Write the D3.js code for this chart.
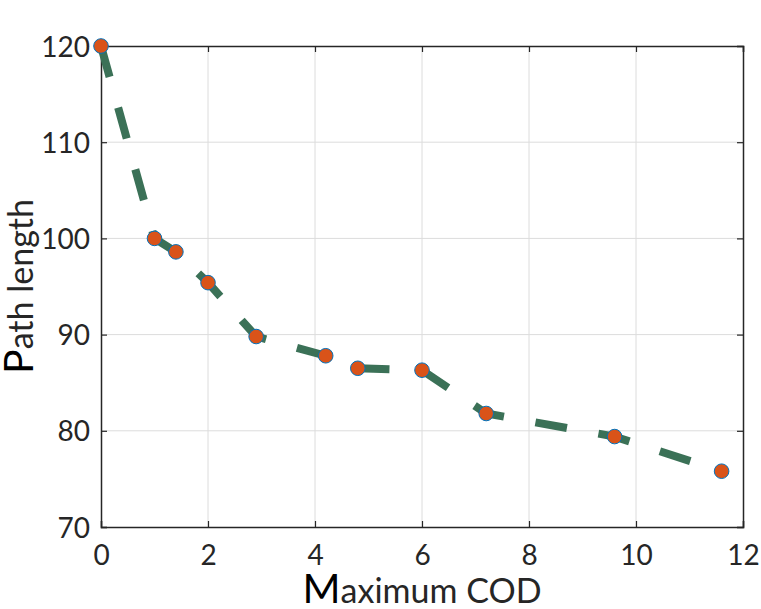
<!DOCTYPE html>
<html>
<head>
<meta charset="utf-8">
<script src="https://cdn.jsdelivr.net/npm/d3@7"></script>
<style>
  body { margin: 0; background: #fff; }
  text { font-family: Lato, "Open Sans", sans-serif; }
</style>
</head>
<body>
<div id="chart"></div>
<script>
// values
const maxCOD = [0, 1.0, 1.4, 2.0, 2.9, 4.2, 4.8, 6.0, 7.2, 9.6, 11.6];
const pathLength = [120, 100.0, 98.6, 95.4, 89.8, 87.8, 86.5, 86.3, 81.8, 79.4, 75.8];
const xTicks = [0, 2, 4, 6, 8, 10, 12];
const yTicks = [70, 80, 90, 100, 110, 120];

const data = maxCOD.map((x, i) => ({x: x, y: pathLength[i]}));

const margin = {top: 46, right: 18, bottom: 82, left: 101},
      width = 761 - margin.left - margin.right,
      height = 609 - margin.top - margin.bottom;

const svg = d3.select("#chart")
    .append("svg")
    .attr("width", width + margin.left + margin.right)
    .attr("height", height + margin.top + margin.bottom)
    .append("g")
    .attr("transform", `translate(${margin.left},${margin.top})`);

const x = d3.scaleLinear().domain([0, 12]).range([0, width]);
const y = d3.scaleLinear().domain([70, 120]).range([height, 0]);

// grid
svg.append("g")
    .selectAll("line")
    .data(xTicks.slice(1, -1))
    .enter()
    .append("line")
    .attr("x1", d => x(d)).attr("x2", d => x(d))
    .attr("y1", 0).attr("y2", height)
    .attr("stroke", "#dcdcdc").attr("stroke-width", 1);

svg.append("g")
    .selectAll("line")
    .data(yTicks.slice(1, -1))
    .enter()
    .append("line")
    .attr("x1", 0).attr("x2", width)
    .attr("y1", d => y(d)).attr("y2", d => y(d))
    .attr("stroke", "#dcdcdc").attr("stroke-width", 1);

const tickColor = "#262626";

/* X axis */
const xAxis = svg.append("g")
    .attr("transform", `translate(0,${height})`)
    .call(d3.axisBottom(x).tickValues(xTicks).tickSize(-6).tickPadding(18).tickFormat(d3.format("d")));

/* Y Axis */
const yAxis = svg.append("g")
    .call(d3.axisLeft(y).tickValues(yTicks).tickSize(-6).tickPadding(11).tickFormat(d3.format("d")));

// mirrored ticks on top and right
svg.append("g")
    .call(d3.axisTop(x).tickValues(xTicks).tickSize(-6).tickFormat(""));
svg.append("g")
    .attr("transform", `translate(${width},0)`)
    .call(d3.axisRight(y).tickValues(yTicks).tickSize(-6).tickFormat(""));

svg.selectAll(".domain").attr("stroke", tickColor).attr("stroke-width", 1.5);
svg.selectAll(".tick line").attr("stroke", tickColor).attr("stroke-width", 1.2);
svg.selectAll(".tick text")
    .attr("fill", tickColor)
    .style("font-size", "28px");
yAxis.selectAll(".tick text").attr("dy", "0.36em");

// dashed line
const line = d3.line().x(d => x(d.x)).y(d => y(d.y));
svg.append("path")
    .datum(data)
    .attr("d", line)
    .attr("fill", "none")
    .attr("stroke", "#3b7157")
    .attr("stroke-width", 8)
    .attr("stroke-dasharray", "32,32");

svg.selectAll("circle")
    .data(data)
    .enter()
    .append("circle")
    .attr("cx", d => x(d.x))
    .attr("cy", d => y(d.y))
    .attr("r", 7.3)
    .attr("fill", "#d95319")
    .attr("stroke", "#0072bd")
    .attr("stroke-width", 1);

// Labels
const xLabel = svg.append("text")
    .attr("x", width / 2)
    .attr("y", height + 76)
    .attr("text-anchor", "middle")
    .attr("fill", tickColor)
    .style("font-size", "34px");
xLabel.append("tspan").attr("fill", "#000").style("font-size", "41px").text("M");
xLabel.append("tspan").text("aximum COD");

const yLabel = svg.append("text")
    .attr("transform", "rotate(-90)")
    .attr("x", -height / 2)
    .attr("y", -68)
    .attr("text-anchor", "middle")
    .attr("fill", tickColor)
    .style("font-size", "34px");
yLabel.append("tspan").attr("fill", "#000").style("font-size", "41px").text("P");
yLabel.append("tspan").text("ath length");
</script>
</body>
</html>
